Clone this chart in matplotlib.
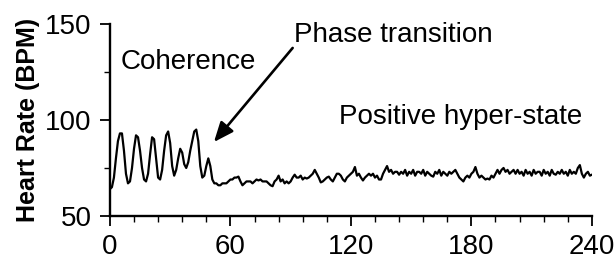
import numpy as np
import matplotlib.pyplot as plt
from matplotlib.ticker import MultipleLocator

plt.rcParams['font.family'] = ['Liberation Sans', 'DejaVu Sans']

# heart rate, one reading per second (0..240 s)
hr_coherence = [
    64, 65, 70, 80, 89, 93, 93, 84, 72, 67,
    68, 75, 85, 92, 91, 84, 75, 69, 68, 72,
    82, 91, 90, 80, 70, 69, 74, 84, 92, 94,
    88, 76, 71, 74, 80, 85, 83, 77, 75, 78,
    84, 89, 94, 95, 89, 76, 70, 71, 76, 80,
    76, 69, 67, 67, 66, 66, 67, 67, 67, 68,
]
hr_hyper = [
    69, 69, 70, 70, 70.5, 68, 66, 67, 68, 68,
    68, 67, 68, 69, 68.5, 69, 68, 68, 68, 67,
    66, 65.5, 68, 69, 71, 68, 69, 67, 68, 67,
    68, 70, 71.5, 70, 70, 71, 69, 70, 69.5, 70,
    71, 72, 74, 72, 70, 67.5, 68, 69, 70, 70.5,
    69, 68, 70, 72, 72, 71, 69, 68, 70, 71,
    72, 73, 75.5, 71, 72, 70, 68.5, 70, 71, 72,
    71, 72, 70, 71, 69, 69, 72, 74, 76, 73,
    74, 72, 73, 73, 71.5, 73, 72, 74, 71, 73,
    72, 74, 71, 73, 73, 72, 74, 71, 73, 72,
    71, 70.5, 73, 72, 74, 71, 73, 72, 71, 73,
    72, 73, 74, 72, 70, 69, 68, 70, 71, 70,
    72, 73, 75.5, 72, 70, 71, 70, 69, 69.5, 69,
    71, 70, 72, 74, 72, 74, 75, 73, 74, 72,
    73, 74, 72, 74, 72, 73, 71, 74, 72, 73,
    71, 74, 72, 73, 73, 71, 74, 72, 73, 71,
    74, 72, 71.5, 73, 72, 74, 72, 73, 71, 74,
    72, 73, 72, 75, 76.5, 72, 70, 72, 73, 71,
    71.5,
]
hr = hr_coherence + hr_hyper
t = np.arange(len(hr))

fig = plt.figure(figsize=(6.14, 2.66), dpi=100)
ax = fig.add_axes([0.179, 0.188, 0.785, 0.722])

ax.plot(t, hr, color='black', lw=1.6)

ax.set_xlim(0, 240)
ax.set_ylim(50, 150)
ax.xaxis.set_major_locator(MultipleLocator(60))
ax.xaxis.set_minor_locator(MultipleLocator(12))
ax.yaxis.set_major_locator(MultipleLocator(50))
ax.yaxis.set_minor_locator(MultipleLocator(25))
ax.tick_params(which='major', length=7, width=1.3, labelsize=20, pad=6)
ax.tick_params(which='minor', length=4, width=1.0)
for s in ['top', 'right']:
    ax.spines[s].set_visible(False)
for s in ['left', 'bottom']:
    ax.spines[s].set_linewidth(1.7)

ax.set_ylabel('Heart Rate (BPM)', fontsize=18, fontweight='bold', labelpad=4)

ax.text(5.5, 130, 'Coherence', fontsize=20, va='center', ha='left')
ax.text(91.5, 144.5, 'Phase transition', fontsize=20, va='center', ha='left')
ax.text(114, 101.5, 'Positive hyper-state', fontsize=20, va='center', ha='left')
ax.annotate('', xy=(51.8, 88.5), xytext=(91, 137.5),
            arrowprops=dict(arrowstyle='-|>,head_length=1.2,head_width=0.5',
                            color='black', lw=1.9, shrinkA=0, shrinkB=0))

fig.savefig('out.png', dpi=100)
